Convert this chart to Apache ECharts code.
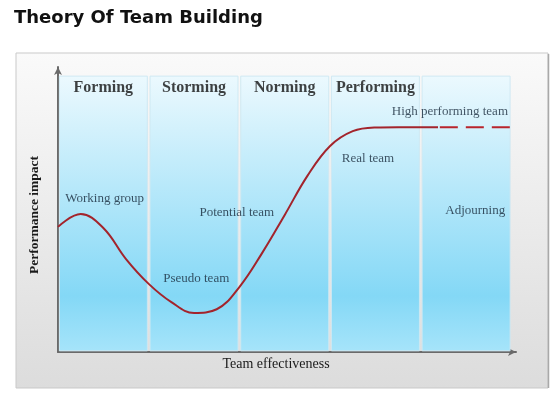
<!DOCTYPE html>
<html lang="en">
<head>
<meta charset="UTF-8">
<title>Theory Of Team Building</title>
<script src="https://cdn.jsdelivr.net/npm/echarts@6/dist/echarts.min.js"></script>
<style>
  html, body { margin: 0; padding: 0; background: #ffffff; }
  #chart { width: 560px; height: 420px; }
</style>
</head>
<body>
<div id="chart"></div>
<script type="text/javascript">
// stages (one column each)
var stages = ['Forming', 'Storming', 'Norming', 'Performing', ''];
var stageTop = 96.8;

// performance curve (x in stage units, y 0..100)
var curveX = [0, 0.25, 0.5, 0.75, 1.0, 1.25, 1.5, 1.75, 2.0, 2.25, 2.5, 2.75, 3.0, 3.25, 3.5, 3.75, 4.19];
var curveY = [43.9, 48.4, 43.5, 32.6, 23.9, 17.5, 13.7, 15.0, 22.8, 34.7, 48.1, 61.8, 72.3, 77.5, 78.8, 78.9, 78.9];
// dashed continuation
var dashX = [4.21, 5.02];
var dashY = [78.9, 78.9];

// annotations along the curve (left edge x, middle y)
var noteText = ['Working group', 'Pseudo team', 'Potential team', 'Real team', 'High performing team', 'Adjourning'];
var noteX = [0.08, 1.16, 1.56, 3.13, 3.68, 4.27];
var noteY = [54.0, 25.6, 48.8, 67.7, 84.2, 49.5];

var myChart = echarts.init(document.getElementById('chart'));

function zip(xs, ys) {
  return xs.map(function (x, i) { return [x, ys[i]]; });
}

var columns = stages.map(function (s, i) {
  return [{ coord: [i + 0.015, 0.4] }, { coord: [i + 0.985, stageTop] }];
});

var headings = stages.map(function (s, i) {
  return { value: [i + 0.5, 92.6], label: { formatter: s } };
});

var notes = noteText.map(function (t, i) {
  return { value: [noteX[i], noteY[i]], label: { formatter: t } };
});

myChart.setOption({
  animation: false,
  graphic: [
    {
      type: 'rect',
      z: -10,
      shape: { x: 16, y: 53, width: 532, height: 335 },
      style: {
        fill: new echarts.graphic.LinearGradient(0, 0, 0, 1, [
          { offset: 0, color: '#fafafa' },
          { offset: 1, color: '#dcdcdc' }
        ]),
        stroke: '#c9c9c9',
        lineWidth: 1
      }
    },
    {
      type: 'line',
      z: -9,
      shape: { x1: 548.5, y1: 54, x2: 548.5, y2: 388 },
      style: { stroke: '#a9a9a9', lineWidth: 1.5 }
    },
    {
      type: 'text',
      left: 14,
      top: 9,
      style: {
        text: 'Theory Of Team Building',
        font: 'bold 18px "DejaVu Sans"',
        fill: '#111111'
      }
    }
  ],
  grid: { left: 58, right: 44, top: 67, bottom: 68 },
  xAxis: {
    type: 'value',
    min: 0,
    max: 5.05,
    name: 'Team effectiveness',
    nameLocation: 'middle',
    nameGap: 5,
    nameTextStyle: {
      fontFamily: 'Liberation Serif',
      fontSize: 14,
      color: '#1a1a1a',
      padding: [0, 22, 0, 0]
    },
    axisLine: {
      show: true,
      symbol: ['none', 'arrow'],
      symbolSize: [6, 8],
      lineStyle: { color: '#6a6a6a', width: 2 }
    },
    axisTick: { show: false },
    axisLabel: { show: false },
    splitLine: { show: false }
  },
  yAxis: {
    type: 'value',
    min: 0,
    max: 100,
    name: 'Performance impact',
    nameLocation: 'middle',
    nameGap: 16,
    nameRotate: 90,
    nameTextStyle: {
      fontFamily: 'Liberation Serif',
      fontSize: 13.5,
      fontWeight: 'bold',
      color: '#1a1a1a',
      padding: [0, 11, 0, 0]
    },
    axisLine: {
      show: true,
      symbol: ['none', 'arrow'],
      symbolSize: [6, 8],
      lineStyle: { color: '#6a6a6a', width: 2 }
    },
    axisTick: { show: false },
    axisLabel: { show: false },
    splitLine: { show: false }
  },
  series: [
    {
      type: 'line',
      name: 'columns',
      data: [],
      silent: true,
      markArea: {
        silent: true,
        itemStyle: {
          color: new echarts.graphic.LinearGradient(0, 0, 0, 1, [
            { offset: 0, color: '#ecf9fe' },
            { offset: 0.8, color: '#84d8f6' },
            { offset: 1, color: '#a6e4fa' }
          ]),
          borderColor: 'rgba(205,232,242,0.9)',
          borderWidth: 1
        },
        data: columns
      }
    },
    {
      type: 'line',
      name: 'Performance',
      data: zip(curveX, curveY),
      smooth: 0.4,
      showSymbol: false,
      lineStyle: { color: '#a3242c', width: 2 },
      z: 5
    },
    {
      type: 'line',
      name: 'Projected',
      data: zip(dashX, dashY),
      showSymbol: false,
      lineStyle: { color: '#b8242c', width: 2, type: [18, 8] },
      z: 5
    },
    {
      type: 'scatter',
      symbolSize: 0,
      data: headings,
      label: {
        show: true,
        position: 'inside',
        fontFamily: 'Liberation Serif',
        fontWeight: 'bold',
        fontSize: 16,
        color: '#111111'
      },
      z: 6
    },
    {
      type: 'scatter',
      symbolSize: 0,
      data: notes,
      label: {
        show: true,
        position: 'right',
        distance: 0,
        fontFamily: 'Liberation Serif',
        fontSize: 13,
        color: '#17283a'
      },
      z: 6
    }
  ]
});
</script>
</body>
</html>
